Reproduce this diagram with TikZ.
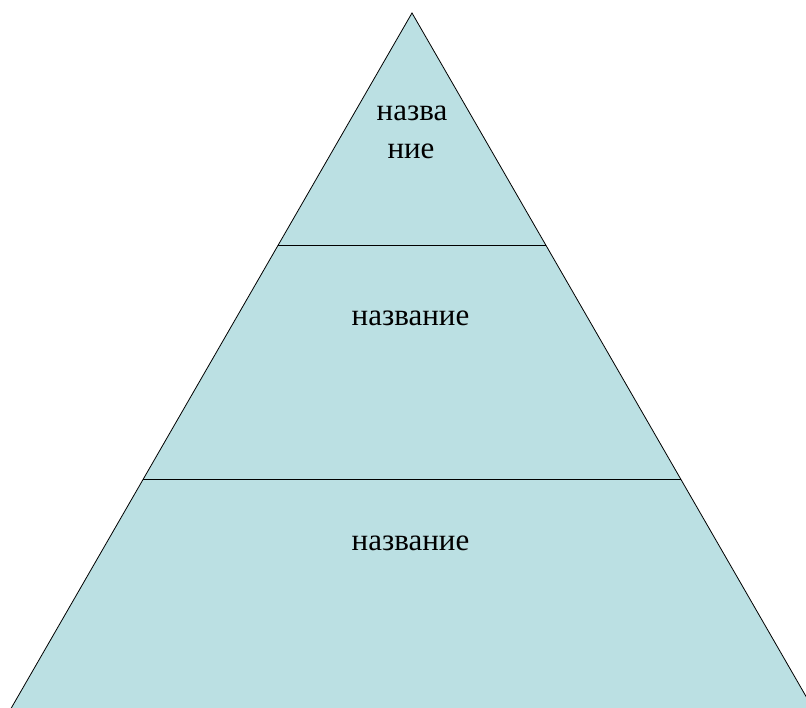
\documentclass[tikz,border=0pt]{standalone}
\usepackage{fontspec}
\setmainfont{Liberation Serif}
\definecolor{pyrfill}{HTML}{BBE0E3}
\tikzset{
  edge/.style={draw=black, line width=0.8pt, line join=miter},
  lbl/.style={anchor=base, inner sep=0pt, font=\fontsize{31}{37.6}\selectfont, text=black}
}
\begin{document}
\begin{tikzpicture}[x=1pt,y=1pt]
\useasboundingbox (0,0) rectangle (806,708);
\clip (0,0) rectangle (806,708);
% corners of the pyramid (y measured from bottom)
\coordinate (apex) at (412,695);
\coordinate (bl) at (11.3,0);
\coordinate (br) at (812.7,0);
\coordinate (l1) at (278.2,463);
\coordinate (r1) at (545.8,463);
\coordinate (l2) at (143.1,228.7);
\coordinate (r2) at (680.9,228.7);
\fill[pyrfill] (apex) -- (br) -- (bl) -- cycle;
\draw[edge] (bl) -- (apex) -- (br);
\draw[edge] (l1) -- (r1);
\draw[edge] (l2) -- (r2);
\node[lbl] (t1a) at (412,587.3) {назва};
\node[lbl] (t1b) at (411,549.7) {ние};
\node[lbl] (t2) at (410.5,382) {название};
\node[lbl] (t3) at (410.5,157) {название};
\end{tikzpicture}
\end{document}
